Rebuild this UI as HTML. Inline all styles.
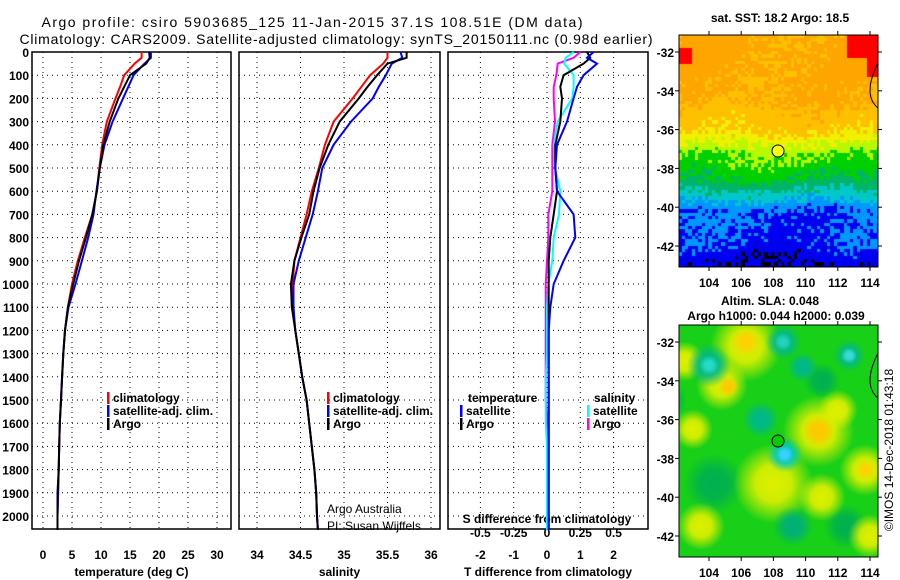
<!DOCTYPE html>
<html><head><meta charset="utf-8"><style>
body{margin:0;width:900px;height:580px;background:#fff;position:relative;overflow:hidden;font-family:"Liberation Sans",sans-serif}
canvas{position:absolute}
svg{position:absolute;left:0;top:0}
</style></head><body>
<canvas id="m1" width="199" height="232" style="left:679px;top:35px"></canvas>
<canvas id="m2" width="199" height="232" style="left:679px;top:325px"></canvas>
<svg id="s" width="900" height="580" xmlns="http://www.w3.org/2000/svg"></svg>
<script>
// ---- data ----
const tDepth=[0,25,50,100,150,200,300,400,500,600,700,800,900,1000,1100,1200,1300,1400,1500,1600,1700,1800,1900,2000,2060];
const tClim=[17.0,17.0,15.8,14.0,13.3,12.5,11.0,10.2,9.7,9.3,8.5,7.2,6.0,5.0,4.3,3.8,3.5,3.3,3.1,2.9,2.8,2.7,2.6,2.5,2.5];
const tSat=[18.6,18.6,17.5,15.6,14.7,13.8,12.0,10.6,9.8,9.2,8.7,7.8,6.7,5.6,4.4,3.8,3.5,3.3,3.1,2.9,2.8,2.7,2.6,2.5,2.5];
const tArgo=[18.3,18.4,17.8,15.0,14.0,13.0,11.5,10.4,9.8,9.3,8.5,7.4,6.2,5.2,4.3,3.8,3.5,3.3,3.1,2.9,2.8,2.7,2.5,2.5,2.5];
const sClim=[35.5,35.5,35.45,35.3,35.2,35.1,34.88,34.78,34.71,34.63,34.57,34.5,34.43,34.41,34.41,34.44,34.48,34.52,34.57,34.6,34.63,34.66,34.68,34.69,34.7];
const sSat=[35.65,35.67,35.55,35.48,35.4,35.33,35.08,34.88,34.75,34.7,34.64,34.56,34.48,34.42,34.42,34.44,34.48,34.52,34.57,34.6,34.63,34.66,34.68,34.69,34.7];
const sArgo=[35.72,35.72,35.5,35.38,35.27,35.17,34.95,34.82,34.72,34.65,34.6,34.51,34.43,34.39,34.4,34.44,34.48,34.52,34.57,34.6,34.63,34.66,34.68,34.69,34.7];
const dTsat=[1.4,1.2,1.5,1.1,0.9,0.8,0.6,0.3,0.25,0.3,0.8,0.85,0.5,0.2,0.1,0.05,0.05,0.05,0.05,0.05,0.05,0.05,0.05,0.05,0.05];
const dTargo=[1.2,1.3,1.1,0.5,0.4,0.45,0.4,0.25,0.25,0.3,0.2,0.1,0.05,0.05,0.05,0.05,0.05,0.05,0.05,0.05,0.05,0.05,0.05,0.05,0.05];
const dSsat=[0.2,0.14,0.13,0.2,0.2,0.19,0.08,0.05,0.06,0.1,0.09,0.05,0.04,0.01,0.0,0.0,0.0,-0.01,-0.01,-0.01,0.0,0.0,0.0,0.0,0.0];
const dSargo=[0.25,0.2,0.08,0.07,0.05,0.05,0.06,0.04,0.04,0.04,0.01,0.01,0.0,-0.01,-0.01,-0.01,-0.01,-0.01,-0.01,0.0,0.0,0.0,0.0,0.0,0.0];
const depthTicks=[0,100,200,300,400,500,600,700,800,900,1000,1100,1200,1300,1400,1500,1600,1700,1800,1900,2000];
const tTicks=[0,5,10,15,20,25,30];
const sTicks=[34,34.5,35,35.5,36];
const dtTicks=[-2,-1,0,1,2];
const dsTicks=[-0.5,-0.25,0,0.25,0.5];
const dsLabels=['-0.5','-0.25','0','0.25','0.5'];
const latTicks=[-32,-34,-36,-38,-40,-42];
const lonTicks=[104,106,108,110,112,114];

const S=document.getElementById('s');const NS='http://www.w3.org/2000/svg';
function el(t,a,p){const e=document.createElementNS(NS,t);for(const k in a)e.setAttribute(k,a[k]);(p||S).appendChild(e);return e;}
function tx(x,y,s,o){o=o||{};const e=el('text',{x:x,y:y,'font-size':o.fs||12,'font-weight':o.w||'bold','text-anchor':o.a||'middle',fill:o.c||'#000'});e.textContent=s;if(o.tl)e.setAttribute('textLength',o.tl);return e;}
const pTop=52,pBot=529;
const yD=d=>pTop+d*0.232;
const xT=v=>43+v*5.8;
const xS=v=>257+(v-34)*87;
const xDT=v=>547+v*33.3;
const xDS=v=>547+v*133.2;

let t;
t=tx(312,27,'Argo profile: csiro 5903685_125 11-Jan-2015 37.1S 108.51E (DM data)',{fs:14,w:'normal',tl:541});

t=tx(336,44,'Climatology: CARS2009. Satellite-adjusted climatology: synTS_20150111.nc (0.98d earlier)',{fs:14,w:'normal',tl:633});


function panel(name,x0,x1,xs,ticks,labels,xlab,showY){
  const g=el('g',{});
  
  
  depthTicks.forEach(d=>{el('line',{x1:x0,x2:x1,y1:yD(d),y2:yD(d),stroke:'#000','stroke-dasharray':'1,4','stroke-width':1},g);
    if(showY){const l=tx(29,yD(d)+5,String(d),{a:'end'});}});
  ticks.forEach((v,i)=>{el('line',{x1:xs(v),x2:xs(v),y1:pTop,y2:pBot,stroke:'#000','stroke-dasharray':'1,4','stroke-width':1},g);
    const l=tx(xs(v),559,labels[i]);});
  el('rect',{x:x0,y:pTop,width:x1-x0,height:pBot-pTop,fill:'none',stroke:'#000','stroke-width':1.5},g);
  const xl=tx((x0+x1)/2,576,xlab);
}
function line(vals,xs,col,name){
  const p=vals.map((v,i)=>xs(v).toFixed(1)+','+yD(tDepth[i]).toFixed(1)).join(' ');
  const e=el('polyline',{points:p,fill:'none',stroke:col,'stroke-width':2});
  
  
}
panel('temperature-panel',32,231,xT,tTicks,tTicks.map(String),'temperature (deg C)',true);
panel('salinity-panel',239,440,xS,sTicks,sTicks.map(String),'salinity',false);
panel('difference-panel',448,648,xDT,dtTicks,dtTicks.map(String),'T difference from climatology',false);
dsTicks.forEach((v,i)=>{const l=tx(xDS(v),537,dsLabels[i]);});
t=tx(547,523,'S difference from climatology');

line(tClim,xT,'#f00','temp-climatology-line');line(tSat,xT,'#00f','temp-satellite-line');line(tArgo,xT,'#000','temp-argo-line');
line(sClim,xS,'#f00','sal-climatology-line');line(sSat,xS,'#00f','sal-satellite-line');line(sArgo,xS,'#000','sal-argo-line');
line(dSargo,xDS,'#f0f','sdiff-argo-line');line(dSsat,xDS,'#0ff','sdiff-satellite-line');
line(dTargo,xDT,'#000','tdiff-argo-line');line(dTsat,xDT,'#00f','tdiff-satellite-line');

function leg(x,y,col,label,name){
  const g=el('g',{});
  el('rect',{x:x,y:y-10,width:2.5,height:12,fill:col},g);
  const e=tx(x+6,y,label,{a:'start'});g.appendChild(e);
}
leg(107,402,'#f00','climatology','legend-climatology');leg(107,415,'#00f','satellite-adj. clim.','legend-satellite');leg(107,428,'#000','Argo','legend-argo');
leg(327,402,'#f00','climatology','legend-climatology-2');leg(327,415,'#00f','satellite-adj. clim.','legend-satellite-2');leg(327,428,'#000','Argo','legend-argo-2');
t=tx(468,402,'temperature',{a:'start'});
leg(460,415,'#00f','satellite','legend-t-satellite');leg(460,428,'#000','Argo','legend-t-argo');
t=tx(594,402,'salinity',{a:'start'});
leg(587,415,'#0ff','satellite','legend-s-satellite');leg(587,428,'#f0f','Argo','legend-s-argo');
t=tx(327,513,'Argo Australia',{a:'start',w:'normal'});
t=tx(327,530,'PI: Susan Wijffels',{a:'start',w:'normal'});

// ---- maps ----
const xLon=v=>709+(v-104)*16.1;
function mapFrame(name,y0,mt){
  const g=el('g',{});
  const yLat=v=>mt+17+(-32-v)*19.4;
  el('rect',{x:679,y:y0,width:199,height:232,fill:'none',stroke:'#000','stroke-width':1},g);
  latTicks.forEach(v=>{el('line',{x1:679,x2:675,y1:yLat(v),y2:yLat(v),stroke:'#000'},g);el('line',{x1:878,x2:882,y1:yLat(v),y2:yLat(v),stroke:'#000'},g);
    const l=tx(674,yLat(v)+5,String(v),{a:'end'});});
  lonTicks.forEach(v=>{el('line',{x1:xLon(v),x2:xLon(v),y1:y0,y2:y0-4,stroke:'#000'},g);el('line',{x1:xLon(v),x2:xLon(v),y1:y0+232,y2:y0+236,stroke:'#000'},g);
    const l=tx(xLon(v),y0+252,String(v));});
  el('path',{d:`M878 ${y0+28} Q862 ${y0+60} 878 ${y0+73}`,fill:'none',stroke:'#000','stroke-width':1},g);
}
mapFrame('sst-map-axes',35,35);mapFrame('sla-map-axes',325,325);
t=tx(780,22,'sat. SST: 18.2 Argo: 18.5');
t=tx(770,305,'Altim. SLA: 0.048');
t=tx(776,320,'Argo h1000: 0.044 h2000: 0.039');
t=el('circle',{cx:778,cy:151,r:6,fill:'#ff0',stroke:'#000','stroke-width':1});
t=el('circle',{cx:778,cy:441,r:6,fill:'#0c0',stroke:'#000','stroke-width':1});
t=tx(0,0,'©IMOS 14-Dec-2018 01:43:18',{w:'normal'});t.setAttribute('transform','translate(893,450) rotate(-90)');


// SST texture
(function(){
 const c=document.getElementById('m1').getContext('2d');let sd=7;const r=()=>{sd=(sd*16807)%2147483647;return sd/2147483647;};
 const cols=['#000','#0000f0','#0098ff','#00c8c8','#00b468','#00d000','#b8f800','#f0f000','#ffc000','#ffa500','#ff0000'];
 const prof=[[35,8.8],[70,8.8],[100,8.5],[130,7.6],[142,6.6],[152,5.6],[168,5.0],[180,4.4],[190,3.4],[200,2.5],[210,1.5],[245,1.3],[255,0.9],[267,0.5]];
 const f=y=>{y+=35;for(let i=1;i<prof.length;i++)if(y<=prof[i][0]){const a=prof[i-1],b=prof[i];return a[1]+(b[1]-a[1])*(y-a[0])/(b[0]-a[0]);}return 0.5;};
 const cs=3.3;
 for(let j=0;j<71;j++)for(let i=0;i<61;i++){const x=i*cs,y=j*cs;let v=f(y)+(r()-0.5)*1.0+Math.sin(x/25+j/9)*0.3;
  if(v>9.4)v=9;
  if(x>168&&y<20)v=10; if(x>185&&y<40)v=10; if(x<10&&y>10&&y<28)v=10;
  const k=Math.max(0,Math.min(10,Math.round(v)));c.fillStyle=cols[k];c.fillRect(Math.floor(x),Math.floor(y),Math.ceil(cs)+1,Math.ceil(cs)+1);}
})();
// SLA texture
(function(){
 const c=document.getElementById('m2').getContext('2d');c.fillStyle='#18d018';c.fillRect(0,0,199,232);
 const P=(lon,lat)=>[30+(lon-104)*16.1,17+(-32-lat)*19.4];
 const blobs=[
  [104.3,-39.3,30,'0,176,80'],[112.5,-41.5,22,'0,176,80'],[111,-34,18,'0,176,80'],[101.5,-35,18,'0,176,80'],
  [106.3,-32.2,36,'224,240,0'],[104.8,-34.2,26,'224,240,0'],[110.8,-36.6,36,'224,240,0'],[103,-36.5,20,'224,240,0'],
  [108,-39.3,40,'224,240,0'],[113.7,-38.6,26,'224,240,0'],[114,-42,22,'224,240,0'],[103.5,-41.5,24,'224,240,0'],
  [111,-40,24,'224,240,0'],[102.5,-33,20,'224,240,0'],[112,-35.5,20,'224,240,0'],
  [106.3,-32,14,'255,210,0'],[105.2,-34.3,10,'255,200,0'],[110.8,-36.6,16,'255,200,0'],[113.7,-38.6,10,'255,210,0'],
  [104,-33.2,22,'0,184,140'],[108.6,-32,18,'0,184,140'],[109.8,-33.3,15,'0,184,140'],[112.7,-32.7,16,'0,184,140'],
  [107.2,-36,18,'0,184,140'],[108.7,-37.8,18,'0,200,190'],[109.2,-41.5,20,'0,176,120'],
  [104,-33.2,10,'40,220,200'],[108.6,-32,9,'40,210,190'],[112.7,-32.7,8,'60,220,220'],[108.7,-37.8,9,'60,210,255']];
 blobs.forEach(b=>{const p=P(b[0],b[1]),x=p[0],y=p[1],rr=b[2];const g=c.createRadialGradient(x,y,0,x,y,rr);g.addColorStop(0,'rgba('+b[3]+',1)');g.addColorStop(0.45,'rgba('+b[3]+',0.9)');g.addColorStop(1,'rgba('+b[3]+',0)');c.fillStyle=g;c.fillRect(x-rr,y-rr,2*rr,2*rr);});
})();
</script>
</body></html>
